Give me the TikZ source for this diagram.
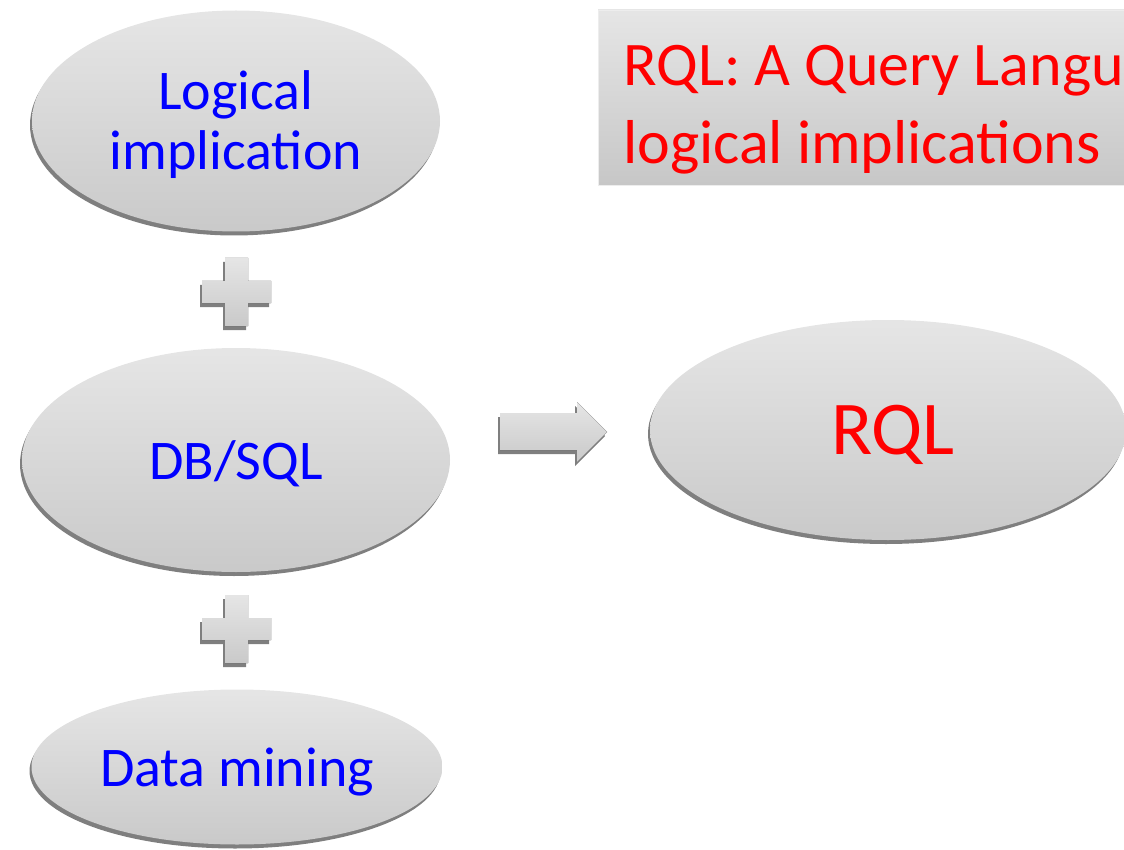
\documentclass[tikz,border=0pt]{standalone}
\usepackage{fontspec}
\setmainfont{Carlito}
\usetikzlibrary{shapes.geometric,shadows,positioning}

\tikzset{
	shade/.style={top color=black!10, bottom color=black!21},
	softshadow/.style={drop shadow={shadow xshift=-2pt, shadow yshift=-4pt, opacity=.5, fill=black}},
	blob/.style={ellipse, shade, softshadow, inner sep=0pt, align=center, text=blue,
		font=\fontsize{56}{60}\selectfont},
	titlebox/.style={rectangle, top color=black!10, bottom color=black!22, draw=black!7,
		minimum width=560pt, minimum height=175pt, inner sep=0pt},
}

\begin{document}
\begin{tikzpicture}[x=1pt,y=-1pt]
	\useasboundingbox (0,0) rectangle (1124,850);
	\clip (0,0) rectangle (1124,850);
	% title
	\node[titlebox] (tbox) at (878,97.5) {};
	\node[anchor=north west, inner sep=0pt, align=left, text=red,
		font=\fontsize{62}{78}\selectfont] (title) at (623,45)
		{RQL: A Query Language\\logical implications};
	% left column
	\node[blob, minimum width=408pt, minimum height=221pt,
		label={[yshift=-4pt, align=center, text=blue, font=\fontsize{56}{60}\selectfont]center:Logical\\implication}]
		(logic) at (236,121) {};
	\node[blob, text depth=0pt, minimum width=428pt, minimum height=224pt] (dbsql) at (236,460) {DB/SQL};
	\node[blob, text depth=0pt, minimum width=411pt, minimum height=155pt] (mining) at (237,767) {Data mining};
	% plus signs
	\foreach \y in {292,629}
		\fill[shade, softshadow] (225,\y-34) -- (248,\y-34) -- (248,\y-11) -- (271,\y-11)
			-- (271,\y+11) -- (248,\y+11) -- (248,\y+34) -- (225,\y+34) -- (225,\y+11)
			-- (202,\y+11) -- (202,\y-11) -- (225,\y-11) -- cycle;
	% block arrow
	\fill[shade, softshadow] (500,413) -- (577,413) -- (577,402) -- (607,432) -- (577,462)
		-- (577,450) -- (500,450) -- cycle;
	% result
	\node[blob, text=red, text depth=0pt, font=\fontsize{76}{80}\selectfont,
		minimum width=476pt, minimum height=220pt] (rql) at (888,430) {\hspace*{10pt}RQL};
\end{tikzpicture}
\end{document}
